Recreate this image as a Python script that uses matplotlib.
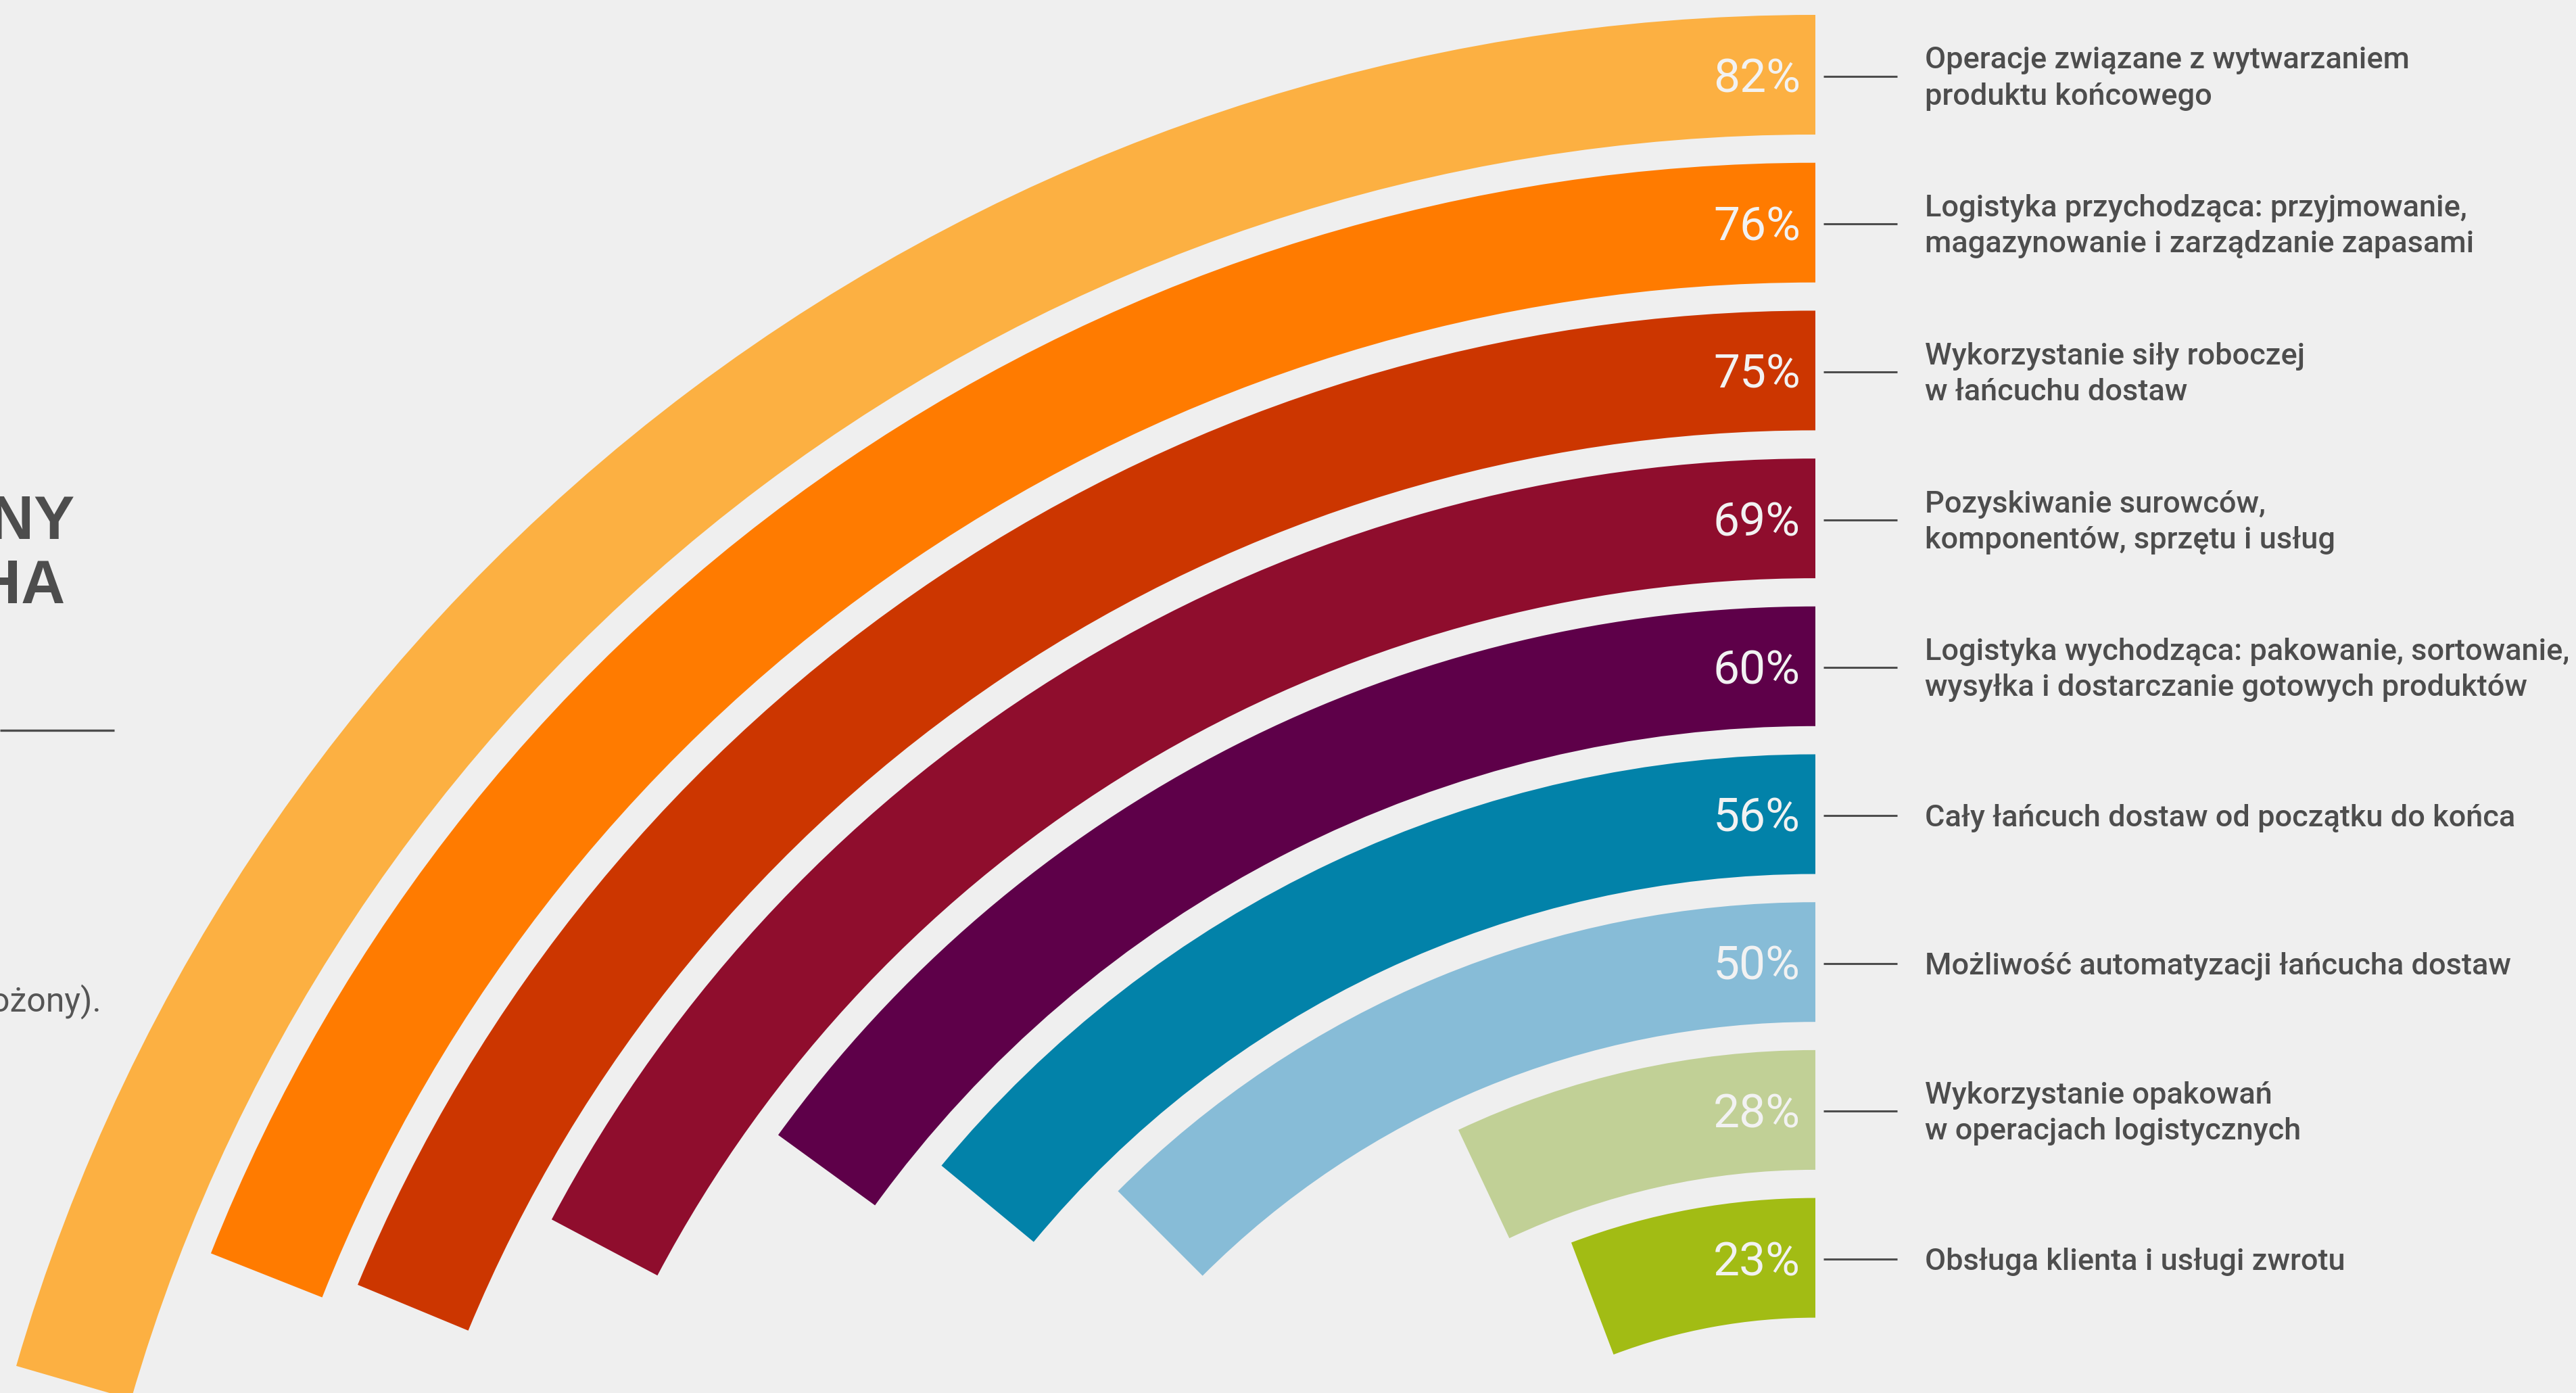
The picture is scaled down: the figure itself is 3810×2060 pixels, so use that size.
import matplotlib
import matplotlib.pyplot as plt
from matplotlib.patches import Wedge

matplotlib.use('agg')

# data, outermost arc first
values = [82, 76, 75, 69, 60, 56, 50, 28, 23]
labels = [
    "Operacje związane z wytwarzaniem\nproduktu końcowego",
    "Logistyka przychodząca: przyjmowanie,\nmagazynowanie i zarządzanie zapasami",
    "Wykorzystanie siły roboczej\nw łańcuchu dostaw",
    "Pozyskiwanie surowców,\nkomponentów, sprzętu i usług",
    "Logistyka wychodząca: pakowanie, sortowanie,\nwysyłka i dostarczanie gotowych produktów",
    "Cały łańcuch dostaw od początku do końca",
    "Możliwość automatyzacji łańcucha dostaw",
    "Wykorzystanie opakowań\nw operacjach logistycznych",
    "Obsługa klienta i usługi zwrotu",
]
colors = ["#FCB042", "#FF7B00", "#CC3600", "#8F0D2D", "#5E0049",
          "#0282A9", "#87BCD7", "#C1D096", "#A2BC14"]
# cropped text fragments on the left edge
title_lines = ["NY", "HA"]
note_text = "rożony)."

W, H = 3810, 2060
BG = "#EFEFEF"
TXT = "#4D4D4D"

fig = plt.figure(figsize=(W / 100, H / 100), dpi=100, facecolor=BG)
ax = fig.add_axes([0, 0, 1, 1])
ax.set_xlim(0, W)
ax.set_ylim(0, H)
ax.axis('off')
ax.set_facecolor(BG)


def Y(p):
    # pixel row from top -> data y
    return H - p


cx, cy = 2685, 2793          # centre of the rings (pixels, below the picture)
r_outer = 2771               # outer radius of the first ring
step = 218.7                 # ring spacing
band = 177                   # ring thickness
deg_per_pct = 0.9            # 100 % = quarter circle

for i, (v, lab, col) in enumerate(zip(values, labels, colors)):
    r = r_outer - i * step
    w = Wedge((cx, Y(cy)), r, 90, 90 + v * deg_per_pct, width=band,
              facecolor=col, edgecolor='none', antialiased=True)
    ax.add_patch(w)
    yc = cy - (r - band / 2)
    # value inside the ring end
    ax.text(2663, Y(yc + 26), "%d%%" % v, color="#F2F2F2", fontsize=50,
            family=['Roboto', 'DejaVu Sans'], ha='right', va='baseline')
    # connector
    ax.plot([2697, 2806], [Y(yc + 2), Y(yc + 2)], color=TXT, lw=2.2,
            solid_capstyle='butt')
    lines = lab.split("\n")
    if len(lines) == 1:
        bases = [yc + 18]
    else:
        bases = [yc - 9, yc + 44]
    for ln, b in zip(lines, bases):
        ax.text(2847, Y(b), ln, color=TXT, fontsize=32.5, fontweight='medium',
                family=['Roboto', 'DejaVu Sans'], ha='left', va='baseline')

# left side fragments (cut by the picture edge, as in the source)
ax.text(110, Y(797), title_lines[0], color=TXT, fontsize=65, fontweight='bold',
        family=['Liberation Sans', 'DejaVu Sans'], ha='right', va='baseline')
ax.text(96, Y(892), title_lines[1], color=TXT, fontsize=65, fontweight='bold',
        family=['Liberation Sans', 'DejaVu Sans'], ha='right', va='baseline')
ax.plot([0, 169], [Y(1080), Y(1080)], color=TXT, lw=2.4, solid_capstyle='butt')
ax.text(150, Y(1495), note_text, color="#555555", fontsize=36,
        family=['Roboto', 'DejaVu Sans'], ha='right', va='baseline')

fig.savefig("out.png", dpi=100, facecolor=BG)
plt.close(fig)
